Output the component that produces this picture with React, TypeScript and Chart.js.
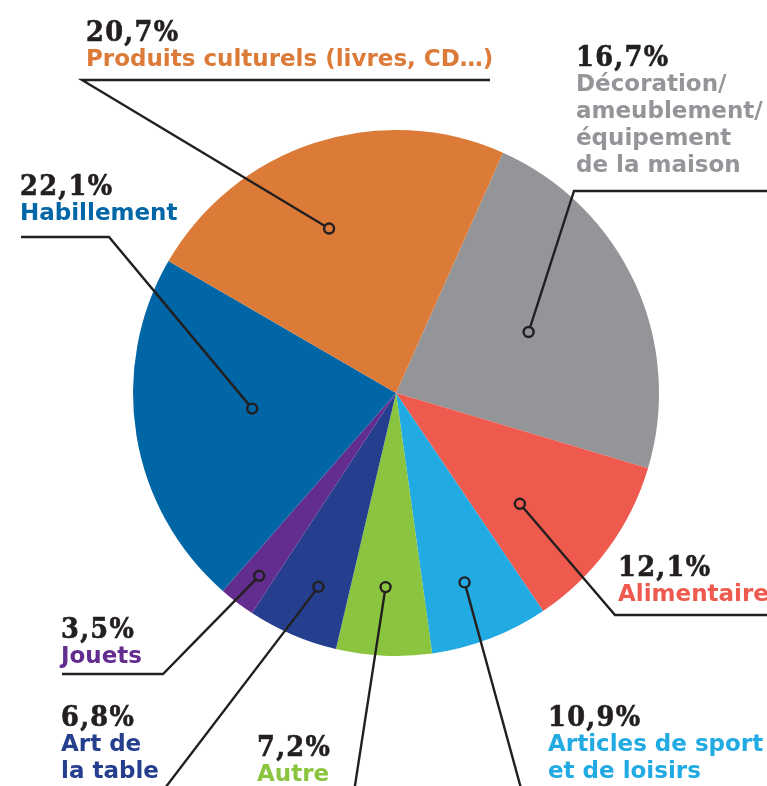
import React, { useEffect, useRef } from "react";
import { Chart, registerables } from "chart.js";

Chart.register(...registerables);

// Categories, in drawing order (clockwise, starting at the top-right)
const categories = [
  "Décoration/ameublement/équipement de la maison",
  "Alimentaire",
  "Articles de sport et de loisirs",
  "Autre",
  "Art de la table",
  "Jouets",
  "Habillement",
  "Produits culturels (livres, CD…)",
];
// Printed percentages (labels of the reference)
const percentLabels = ["16,7%", "12,1%", "10,9%", "7,2%", "6,8%", "3,5%", "22,1%", "20,7%"];
// Slice sizes as drawn in the reference (degrees of arc)
const sliceDegrees = [82.6, 39.4, 26.1, 21.1, 20.0, 8.0, 78.9, 83.9];
// Label text lines for each category
const labelLines = [
  ["Décoration/", "ameublement/", "équipement", "de la maison"],
  ["Alimentaire"],
  ["Articles de sport", "et de loisirs"],
  ["Autre"],
  ["Art de", "la table"],
  ["Jouets"],
  ["Habillement"],
  ["Produits culturels (livres, CD…)"],
];
const sliceColors = ["#939598", "#EF5A4E", "#22ABE2", "#8BC43F", "#253F8E", "#632D90", "#0066A6", "#DC7A38"];

// Layout (positions / styles only)
const START_ROTATION = 24.0;
const labelPos = [
  { x: 576, y: 42 },
  { x: 618, y: 552 },
  { x: 548, y: 702 },
  { x: 257, y: 732 },
  { x: 61, y: 702 },
  { x: 61, y: 614 },
  { x: 20, y: 171 },
  { x: 86, y: 17 },
];
// anchor inside slice: fraction along the arc, fraction of radius
const anchors = [
  [0.5, 0.555],
  [0.64, 0.632],
  [0.54, 0.766],
  [0.52, 0.739],
  [0.43, 0.794],
  [0.45, 0.868],
  [0.54, 0.55],
  [0.45, 0.675],
];
// leader paths after the anchor
const leaderPaths: number[][][] = [
  [[574, 191], [767, 191]],
  [[615, 615], [767, 615]],
  [[522, 792]],
  [[354, 792]],
  [[162, 792]],
  [[163, 674], [62, 674]],
  [[109, 237], [21, 237]],
  [[82, 80], [490, 80]],
];

const leaderPlugin = {
  id: "leaders",
  afterDatasetsDraw(chart: any) {
    const ctx = chart.ctx;
    const meta = chart.getDatasetMeta(0);
    ctx.save();
    const pts: { x: number; y: number; c: string }[] = [];
    meta.data.forEach((arc: any, i: number) => {
      const { x, y, startAngle, endAngle, outerRadius } = arc.getProps(
        ["x", "y", "startAngle", "endAngle", "outerRadius"],
        true
      );
      const [fa, fr] = anchors[i];
      const a = startAngle + fa * (endAngle - startAngle);
      const px = x + Math.cos(a) * outerRadius * fr;
      const py = y + Math.sin(a) * outerRadius * fr;
      pts.push({ x: px, y: py, c: sliceColors[i] });
      ctx.beginPath();
      ctx.moveTo(px, py);
      leaderPaths[i].forEach(([lx, ly]) => ctx.lineTo(lx, ly));
      ctx.strokeStyle = "#231F20";
      ctx.lineWidth = 2.4;
      ctx.lineJoin = "miter";
      ctx.stroke();
    });
    pts.forEach((p) => {
      ctx.beginPath();
      ctx.arc(p.x, p.y, 5, 0, Math.PI * 2);
      ctx.fillStyle = p.c;
      ctx.fill();
      ctx.lineWidth = 2.4;
      ctx.strokeStyle = "#231F20";
      ctx.stroke();
    });
    ctx.restore();
  },
};

export default function App() {
  const ref = useRef<HTMLCanvasElement | null>(null);
  useEffect(() => {
    if (!ref.current) return;
    const chart = new Chart(ref.current, {
      type: "pie",
      data: {
        labels: categories,
        datasets: [
          {
            data: sliceDegrees,
            backgroundColor: sliceColors,
            borderWidth: 0,
          },
        ],
      },
      options: {
        responsive: false,
        animation: false,
        events: [],
        rotation: START_ROTATION,
        layout: { padding: { left: 133, right: 108, top: 130, bottom: 130 } },
        plugins: { legend: { display: false }, tooltip: { enabled: false } },
      },
      plugins: [leaderPlugin],
    });
    return () => chart.destroy();
  }, []);

  return (
    <div style={{ position: "absolute", left: 0, top: 0, width: 767, height: 786, background: "#fff", overflow: "hidden" }}>
      <canvas ref={ref} width={767} height={786} style={{ position: "absolute", left: 0, top: 0, width: 767, height: 786 }} />
      {categories.map((c, i) => (
        <div
          key={c}
          style={{ position: "absolute", left: labelPos[i].x, top: labelPos[i].y, whiteSpace: "nowrap" }}
        >
          <div
            style={{
              fontFamily: "'DejaVu Serif Condensed', 'DejaVu Serif', serif",
              fontStretch: "condensed",
              fontWeight: 700,
              fontSize: 28.5,
              lineHeight: "28px",
              letterSpacing: "1.3px",
              WebkitTextStroke: "0.6px #231F20",
              color: "#231F20",
            }}
          >
            {percentLabels[i]}
          </div>
          {labelLines[i].map((t) => (
            <div
              key={t}
              style={{
                fontFamily: "'DejaVu Sans', sans-serif",
                fontWeight: 700,
                fontSize: 23,
                lineHeight: "27px",
                color: sliceColors[i],
              }}
            >
              {t}
            </div>
          ))}
        </div>
      ))}
    </div>
  );
}
